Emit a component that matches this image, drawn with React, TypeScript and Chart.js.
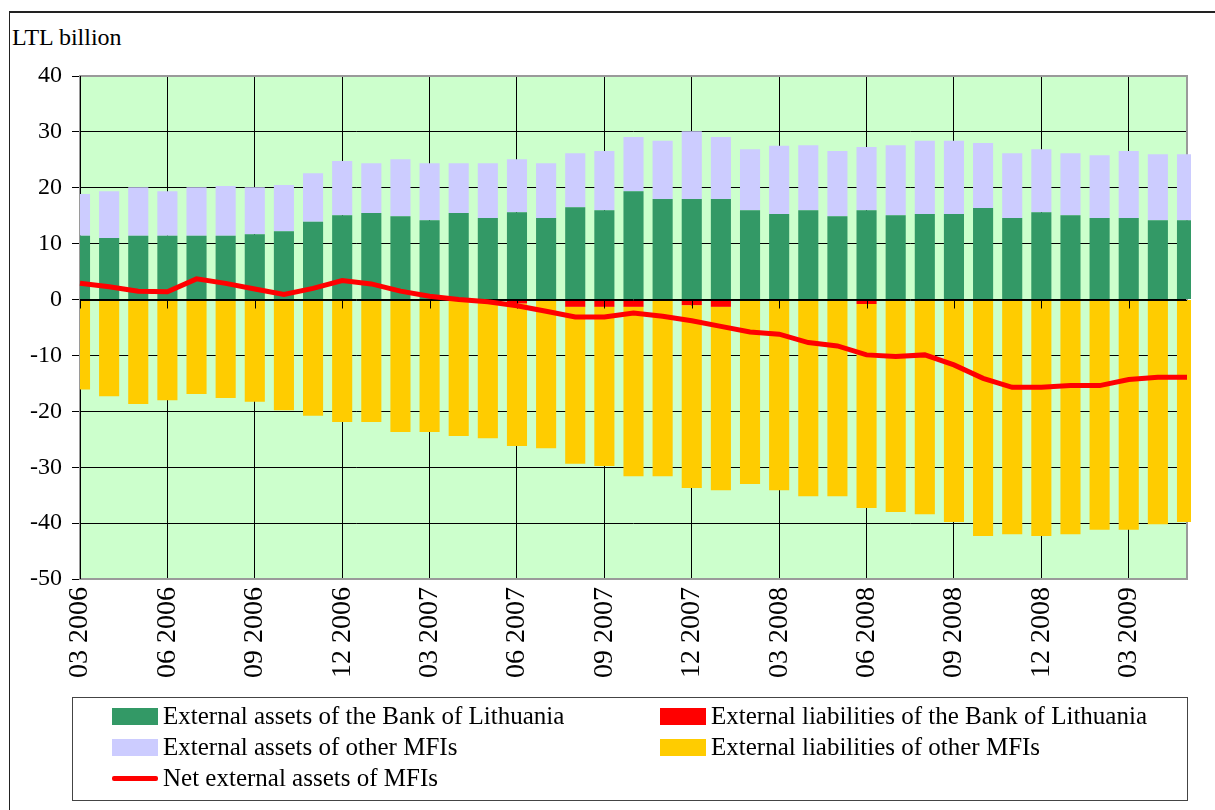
import React, { useEffect, useRef } from "react";
import { Chart, registerables } from "chart.js";

Chart.register(...registerables);

const months = [
  "03 2006", "04 2006", "05 2006", "06 2006", "07 2006", "08 2006", "09 2006", "10 2006", "11 2006", "12 2006",
  "01 2007", "02 2007", "03 2007", "04 2007", "05 2007", "06 2007", "07 2007", "08 2007", "09 2007", "10 2007",
  "11 2007", "12 2007", "01 2008", "02 2008", "03 2008", "04 2008", "05 2008", "06 2008", "07 2008", "08 2008",
  "09 2008", "10 2008", "11 2008", "12 2008", "01 2009", "02 2009", "03 2009", "04 2009", "05 2009",
];

const assetsBoL = [
  11.4, 11.0, 11.4, 11.4, 11.4, 11.4, 11.7, 12.2, 13.9, 15.1,
  15.5, 14.9, 14.2, 15.5, 14.6, 15.6, 14.6, 16.5, 16.0, 19.4,
  18.0, 18.0, 18.0, 16.0, 15.3, 16.0, 14.9, 16.0, 15.1, 15.3,
  15.3, 16.4, 14.6, 15.6, 15.1, 14.6, 14.6, 14.2, 14.2,
];

const assetsOther = [
  7.5, 8.4, 8.7, 8.0, 8.7, 8.9, 8.4, 8.3, 8.7, 9.7,
  8.9, 10.2, 10.2, 8.9, 9.8, 9.5, 9.8, 9.7, 10.6, 9.7,
  10.4, 12.1, 11.1, 10.9, 12.2, 11.6, 11.7, 11.3, 12.5, 13.1,
  13.1, 11.6, 11.6, 11.3, 11.1, 11.2, 12.0, 11.8, 11.8,
];

const liabBoL = [
  0, 0, -0.2, 0, 0, 0, 0, 0, 0, -0.2,
  -0.2, -0.2, 0, 0, 0, -0.7, 0, -1.3, -1.3, -1.3,
  0, -1.0, -1.3, -0.2, 0, -0.2, -0.2, -0.8, -0.2, 0,
  0, 0, 0, 0, -0.2, 0, 0, 0, 0,
];

const liabOther = [
  -16.1, -17.3, -18.5, -18.0, -16.9, -17.6, -18.3, -19.8, -20.8, -21.7,
  -21.7, -23.5, -23.7, -24.4, -24.8, -25.5, -26.6, -28.1, -28.5, -30.3,
  -31.6, -32.7, -32.8, -32.8, -34.1, -35.0, -35.0, -36.5, -37.8, -38.4,
  -39.8, -42.3, -42.0, -42.3, -41.8, -41.2, -41.2, -40.2, -39.8,
];

const netAssets = [
  2.9, 2.3, 1.5, 1.4, 3.7, 2.9, 1.9, 0.9, 2.0, 3.4,
  2.8, 1.5, 0.6, 0.0, -0.4, -1.1, -2.1, -3.1, -3.1, -2.4,
  -3.0, -3.8, -4.8, -5.8, -6.2, -7.7, -8.3, -9.9, -10.2, -9.9,
  -11.7, -14.1, -15.7, -15.7, -15.4, -15.4, -14.3, -13.9, -13.9,
];

const seriesNames = [
  "External assets of the Bank of Lithuania",
  "External assets of other MFIs",
  "External liabilities of the Bank of Lithuania",
  "External liabilities of other MFIs",
  "Net external assets of MFIs",
];

const colors = ["#339966", "#CCCCFF", "#FF0000", "#FFCC00", "#FF0000"];

const FONT = "'Liberation Serif', 'Times New Roman', serif";

const decorPlugin = {
  id: "decor",
  beforeDraw(chart: any) {
    const { ctx, chartArea: a } = chart;
    ctx.save();
    ctx.fillStyle = "#CCFFCC";
    ctx.fillRect(a.left, a.top, a.right - a.left, a.bottom - a.top);
    ctx.restore();
  },
  beforeDatasetsDraw(chart: any) {
    const { ctx, chartArea: a } = chart;
    ctx.save();
    ctx.strokeStyle = "#9A9A9A";
    ctx.lineWidth = 2;
    ctx.strokeRect(a.left, a.top, a.right - a.left, a.bottom - a.top);
    ctx.strokeStyle = "#000";
    ctx.lineWidth = 1;
    ctx.beginPath();
    ctx.moveTo(Math.round(a.left) + 0.5, a.top);
    ctx.lineTo(Math.round(a.left) + 0.5, a.bottom);
    ctx.stroke();
    ctx.restore();
  },
  afterDatasetDraw(chart: any, args: any) {
    if (args.index !== 0) return;
    const { ctx, chartArea: a } = chart;
    const xs = chart.scales.x;
    const ys = chart.scales.y;
    const y0 = Math.round(ys.getPixelForValue(0)) + 0.5;
    ctx.save();
    ctx.strokeStyle = "#000";
    ctx.lineWidth = 1;
    ctx.beginPath();
    ctx.moveTo(a.left, y0);
    ctx.lineTo(a.right, y0);
    for (let i = 0; i < months.length; i += 3) {
      const x = Math.round(xs.getPixelForValue(i)) + 0.5;
      ctx.moveTo(x, y0);
      ctx.lineTo(x, y0 + 8);
    }
    ctx.stroke();
    ctx.restore();
  },
};

export default function App() {
  const ref = useRef<HTMLCanvasElement | null>(null);

  useEffect(() => {
    if (!ref.current) return;
    Chart.defaults.font.family = FONT;
    const barClip = { left: 0, right: 4, top: false, bottom: false } as any;
    const chart = new Chart(ref.current, {
      type: "bar",
      data: {
        labels: months,
        datasets: [
          { type: "bar", label: seriesNames[0], data: assetsBoL, backgroundColor: colors[0], order: 1, clip: barClip },
          { type: "bar", label: seriesNames[1], data: assetsOther, backgroundColor: colors[1], order: 1, clip: barClip },
          { type: "bar", label: seriesNames[2], data: liabBoL, backgroundColor: colors[2], order: 1, clip: barClip },
          { type: "bar", label: seriesNames[3], data: liabOther, backgroundColor: colors[3], order: 1, clip: barClip },
          {
            type: "line",
            label: seriesNames[4],
            data: netAssets,
            borderColor: colors[4],
            backgroundColor: colors[4],
            borderWidth: 5,
            pointRadius: 0,
            tension: 0,
            stack: "net",
            order: 0,
            clip: false as any,
          } as any,
        ],
      },
      options: {
        responsive: false,
        animation: false,
        devicePixelRatio: 1,
        layout: { padding: { left: 0, right: 28, top: 76, bottom: 121 } },
        plugins: { legend: { display: false }, tooltip: { enabled: false } },
        datasets: { bar: { categoryPercentage: 0.69, barPercentage: 1 } },
        scales: {
          x: {
            stacked: true,
            offset: false,
            grid: {
              offset: false,
              color: "#000",
              lineWidth: 1,
              drawTicks: false,
            },
            border: { display: false },
            ticks: {
              autoSkip: false,
              minRotation: 90,
              maxRotation: 90,
              padding: 8,
              color: "#000",
              font: { size: 28, family: FONT },
              callback: function (this: any, value: any, index: number) {
                return index % 3 === 0 ? months[index] : null;
              },
            },
            afterFit: (s: any) => {
              s.height = 110;
            },
          },
          y: {
            stacked: true,
            min: -50,
            max: 40,
            grid: {
              color: "#000",
              lineWidth: 1,
              drawTicks: true,
              tickLength: 8,
              tickColor: "#000",
            },
            border: { display: false },
            ticks: {
              stepSize: 10,
              padding: 10,
              color: "#000",
              font: { size: 24, family: FONT },
            },
            afterFit: (s: any) => {
              s.width = 80;
            },
          },
        },
      },
      plugins: [decorPlugin],
    } as any);
    return () => chart.destroy();
  }, []);

  const legendItems = [
    { i: 0, left: 112, top: 716, kind: "box" },
    { i: 2, left: 660, top: 716, kind: "box" },
    { i: 1, left: 112, top: 747, kind: "box" },
    { i: 3, left: 660, top: 747, kind: "box" },
    { i: 4, left: 112, top: 778, kind: "line" },
  ];

  return (
    <div style={{ position: "absolute", left: 0, top: 0, width: 1215, height: 810, overflow: "hidden", background: "#fff", fontFamily: FONT }}>
      <div style={{ position: "absolute", left: 9, top: 11, width: 1220, height: 820, borderTop: "2px solid #222", borderLeft: "1px solid #222" }} />
      <div style={{ position: "absolute", left: 12, top: 22, fontSize: 24, lineHeight: "30px", color: "#000", whiteSpace: "nowrap" }}>LTL billion</div>
      <canvas ref={ref} width={1215} height={810} style={{ position: "absolute", left: 0, top: 0, width: 1215, height: 810 }} />
      <div style={{ position: "absolute", left: 72, top: 697, width: 1116, height: 104, border: "1px solid #444", boxSizing: "border-box" }} />
      {legendItems.map((it) => (
        <div key={it.i} style={{ position: "absolute", left: it.left, top: it.top - 15, height: 30, display: "flex", alignItems: "center", whiteSpace: "nowrap" }}>
          {it.kind === "box" ? (
            <span style={{ display: "inline-block", width: 46, height: 17, background: colors[it.i] }} />
          ) : (
            <span style={{ display: "inline-block", width: 46, height: 5, borderRadius: 2, background: colors[it.i] }} />
          )}
          <span style={{ marginLeft: 5, fontSize: 25, lineHeight: "30px", color: "#000" }}>{seriesNames[it.i]}</span>
        </div>
      ))}
    </div>
  );
}
